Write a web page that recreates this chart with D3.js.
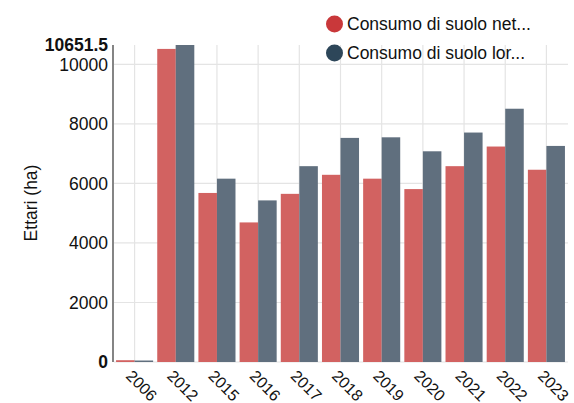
<!DOCTYPE html>
<html>
<head>
<meta charset="utf-8">
<script src="https://cdn.jsdelivr.net/npm/d3@7"></script>
<style>
  body { margin: 0; background: #fff; }
  text { font-family: "Liberation Sans", Arial, sans-serif; }
</style>
</head>
<body>
<div id="container"></div>
<script>
let w = 574;
let h = 403;

// data
let years = ["2006", "2012", "2015", "2016", "2017", "2018", "2019", "2020", "2021", "2022", "2023"];
let netto = [60, 10520, 5680, 4690, 5650, 6290, 6160, 5810, 6580, 7240, 6460];
let lordo = [50, 10651.5, 6160, 5430, 6580, 7530, 7550, 7080, 7710, 8510, 7260];
let seriesNames = ["Consumo di suolo net...", "Consumo di suolo lor..."];
let yTicks = [0, 2000, 4000, 6000, 8000, 10000];
let yMax = 10651.5;

let legendColors = ["#c9383a", "#2d4659"];
let barColors = ["#d26261", "#606f7e"];
let fs = "17.5px";

let viz = d3.select("#container")
  .append("svg")
    .attr("width", w)
    .attr("height", h)
;

let pLeft = 114, pRight = 567, pTop = 45, pBottom = 362;

let xScale = d3.scaleBand().domain(years).range([pLeft, pRight]).paddingInner(0.1).paddingOuter(0.05);
let xSub = d3.scaleBand().domain([0, 1]).range([0, xScale.bandwidth()]);
let yScale = d3.scaleLinear().domain([0, yMax]).range([pBottom, pTop]);

// gridlines
viz.append("g").selectAll("line").data(yTicks).enter()
  .append("line")
    .attr("x1", pLeft).attr("x2", pRight + 1)
    .attr("y1", d => yScale(d)).attr("y2", d => yScale(d))
    .attr("stroke", "#e4e4e4").attr("stroke-width", 1.2)
;
viz.append("g").selectAll("line").data(years).enter()
  .append("line")
    .attr("x1", d => xScale(d) + xScale.bandwidth() / 2)
    .attr("x2", d => xScale(d) + xScale.bandwidth() / 2)
    .attr("y1", pTop).attr("y2", pBottom)
    .attr("stroke", "#e4e4e4").attr("stroke-width", 1.2)
;

// bars
let rows = years.map((y, i) => ({year: y, vals: [netto[i], lordo[i]]}));
let groups = viz.selectAll(".datagroup").data(rows).enter()
  .append("g")
    .attr("class", "datagroup")
    .attr("transform", d => "translate(" + xScale(d.year) + ",0)")
;
groups.selectAll("rect").data(d => d.vals).enter()
  .append("rect")
    .attr("x", (d, i) => xSub(i))
    .attr("y", d => yScale(d))
    .attr("width", xSub.bandwidth())
    .attr("height", d => pBottom - yScale(d))
    .attr("fill", (d, i) => barColors[i])
;

// y axis line
viz.append("line")
  .attr("x1", pLeft - 1).attr("x2", pLeft - 1)
  .attr("y1", pTop).attr("y2", pBottom)
  .attr("stroke", "#333").attr("stroke-width", 1.2)
;

// y tick labels
let yLabels = yTicks.concat([yMax]);
viz.append("g").selectAll("text").data(yLabels).enter()
  .append("text")
    .attr("x", pLeft - 6)
    .attr("y", d => yScale(d))
    .attr("dy", "0.35em")
    .attr("text-anchor", "end")
    .style("font-size", fs)
    .style("font-weight", d => (d == 0 || d == yMax) ? "bold" : "normal")
    .attr("fill", "#111")
    .text(d => d)
;

// y title
viz.append("text")
  .attr("transform", "translate(37," + 203 + ") rotate(-90)")
  .attr("text-anchor", "middle")
  .style("font-size", fs)
  .attr("fill", "#111")
  .text("Ettari (ha)")
;

// x labels
viz.append("g").selectAll("text").data(years).enter()
  .append("text")
    .attr("transform", d => "translate(" + (xScale(d) + xScale.bandwidth() / 2 - 9.5) + "," + (pBottom + 15) + ") rotate(45)")
    .attr("text-anchor", "start")
    .style("font-size", "16px")
    .attr("fill", "#111")
    .text(d => d)
;

// legend
let legend = viz.append("g").selectAll("g").data(seriesNames).enter()
  .append("g")
    .attr("transform", (d, i) => "translate(334.5," + (24 + i * 29) + ")")
;
legend.append("circle")
  .attr("r", 8.5)
  .attr("fill", (d, i) => legendColors[i])
;
legend.append("text")
  .attr("x", 12.5)
  .attr("dy", "0.35em")
  .style("font-size", fs)
  .attr("fill", "#111")
  .text(d => d)
;
</script>
</body>
</html>
